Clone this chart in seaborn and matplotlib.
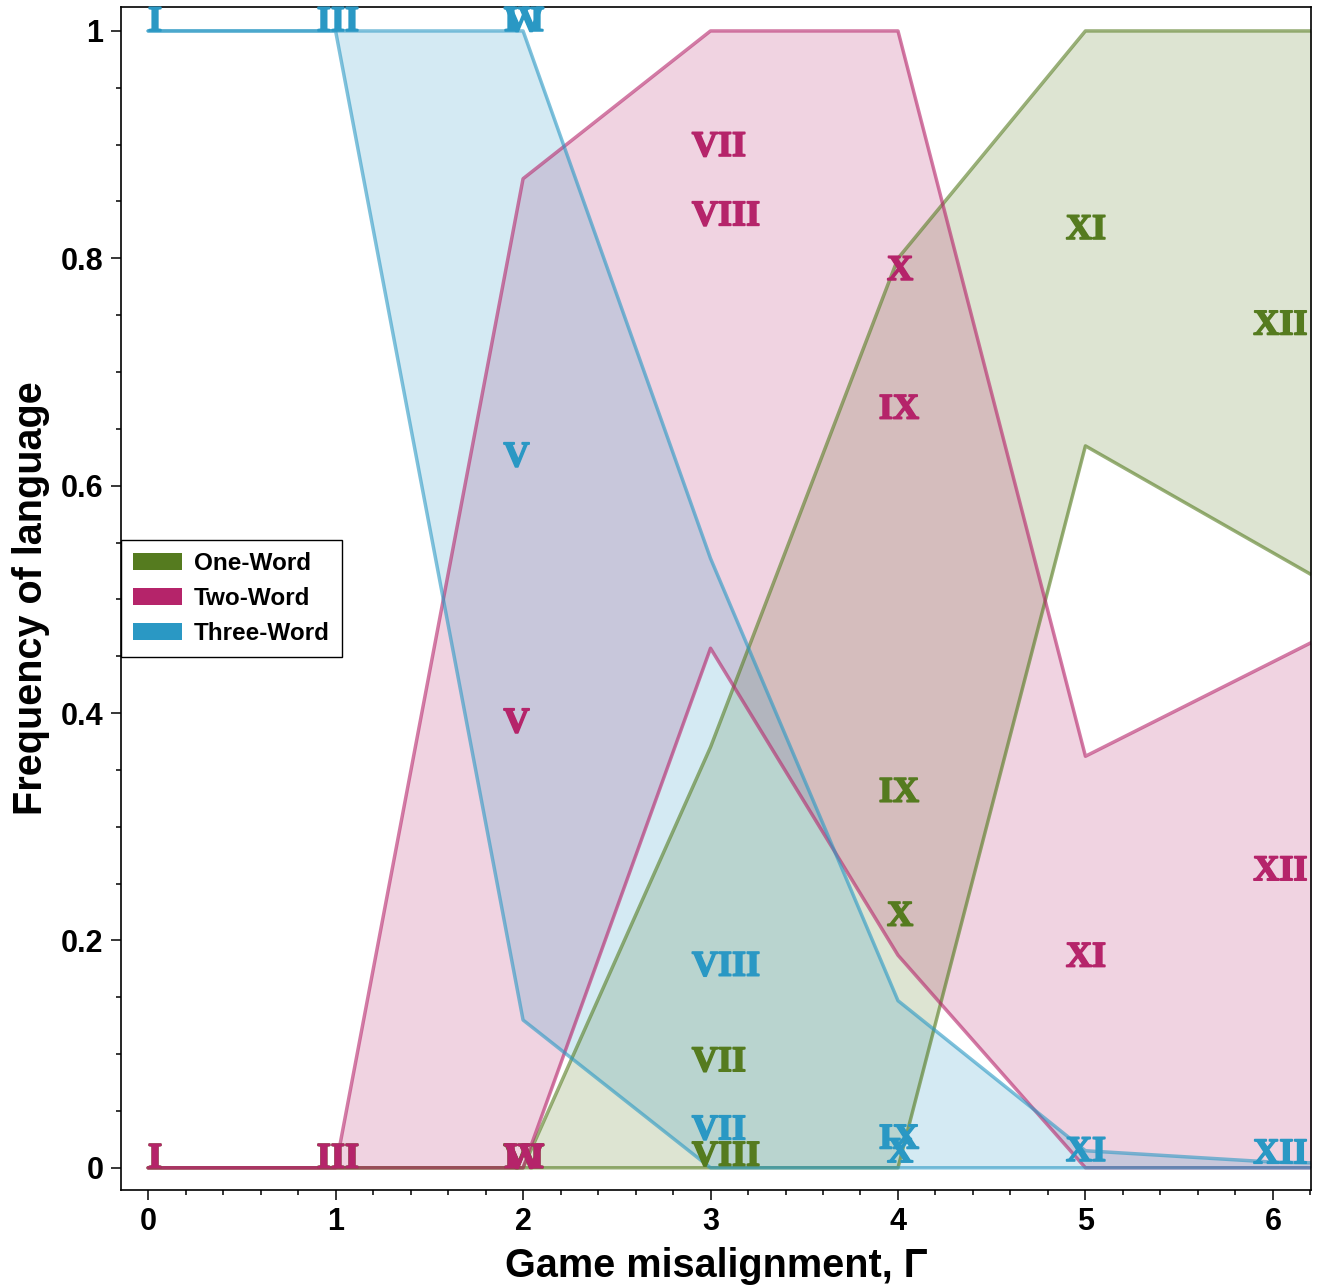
import numpy as np
import pandas as pd
import matplotlib
matplotlib.use("Agg")
import matplotlib.pyplot as plt
import matplotlib.patheffects as pe
import seaborn as sns
from matplotlib.patches import Patch
from matplotlib.ticker import MultipleLocator, FuncFormatter

# Envelope (min / max) of language frequency across runs, per misalignment level
gamma = [0, 1, 2, 3, 4, 5, 6, 7]
one_word_low = [0, 0, 0, 0, 0, 0.635, 0.541, 0.447]
one_word_high = [0, 0, 0, 0.370, 0.800, 1.0, 1.0, 1.0]
two_word_low = [0, 0, 0, 0.457, 0.187, 0, 0, 0]
two_word_high = [0, 0, 0.870, 1.0, 1.0, 0.362, 0.445, 0.528]
three_word_low = [1, 1, 0.130, 0, 0, 0, 0, 0]
three_word_high = [1, 1, 1, 0.536, 0.147, 0.015, 0.005, 0.002]

# Mean frequencies for the individual environments (Roman numerals)
env_names = ['I', 'III', 'IV', 'V', 'VI', 'VII', 'VIII', 'IX', 'X', 'XI', 'XII']
env_gamma = [0.037, 1.013, 2.005, 1.965, 2.005, 3.045, 3.083, 4.005, 4.011, 5.003, 6.04]
env_one = [0, 0, 0, 0, 0, 0.085, 0.002, 0.322, 0.213, 0.817, 0.733]
env_two = [0, 0, 0, 0.383, 0, 0.890, 0.829, 0.659, 0.781, 0.177, 0.253]
env_three = [1, 1, 1, 0.617, 1, 0.025, 0.169, 0.017, 0.005, 0.006, 0.004]

languages = ['One-Word', 'Two-Word', 'Three-Word']
colors = {'One-Word': '#557B1F', 'Two-Word': '#B5246A', 'Three-Word': '#2A98C4'}

sns.set_theme(style='ticks')
plt.rcParams['font.family'] = ['Liberation Sans', 'DejaVu Sans']
plt.rcParams['font.weight'] = 'bold'
for key in ['text.color', 'axes.labelcolor', 'xtick.color', 'ytick.color',
            'axes.edgecolor']:
    plt.rcParams[key] = 'black'

bounds = {
    'One-Word': (one_word_low, one_word_high),
    'Two-Word': (two_word_low, two_word_high),
    'Three-Word': (three_word_low, three_word_high),
}

rows = []
for lang in languages:
    lo, hi = bounds[lang]
    for g, v in zip(gamma, lo):
        rows.append({'gamma': g, 'freq': v, 'language': lang, 'bound': 'low'})
    for g, v in zip(gamma, hi):
        rows.append({'gamma': g, 'freq': v, 'language': lang, 'bound': 'high'})
env_df = pd.DataFrame(rows)

fig = plt.figure(figsize=(13.19, 12.87), dpi=100)
ax = fig.add_axes([0.0917, 0.0754, 0.9022, 0.9192])

for lang in languages:
    lo, hi = bounds[lang]
    ax.fill_between(gamma, lo, hi, facecolor=colors[lang], alpha=0.2,
                    linewidth=0, zorder=1)

sns.lineplot(data=env_df, x='gamma', y='freq', hue='language', units='bound',
             estimator=None, palette=colors, hue_order=languages,
             linewidth=2.5, alpha=0.6, legend=False, ax=ax, zorder=2)

# Environment labels: all One-Word first, then Two-Word, then Three-Word
env_values = {'One-Word': env_one, 'Two-Word': env_two, 'Three-Word': env_three}
for k, lang in enumerate(languages):
    for i, name in enumerate(env_names):
        ax.text(env_gamma[i], env_values[lang][i], name, color=colors[lang],
                ha='center', va='baseline', fontsize=26, fontweight='bold',
                family=['Liberation Serif', 'DejaVu Serif'], zorder=5 + k,
                path_effects=[pe.withStroke(linewidth=1.2,
                                            foreground=colors[lang])])

ax.set_xlim(-0.145, 6.203)
ax.set_ylim(-0.0195, 1.0211)

ax.xaxis.set_major_locator(MultipleLocator(1))
ax.xaxis.set_minor_locator(MultipleLocator(0.2))
ax.yaxis.set_major_locator(MultipleLocator(0.2))
ax.yaxis.set_minor_locator(MultipleLocator(0.05))
ax.yaxis.set_major_formatter(FuncFormatter(lambda v, p: f"{v:g}"))

ax.tick_params(axis='both', which='major', direction='out', length=7.5,
               width=1.1, labelsize=22, pad=5, color='black', labelcolor='black')
ax.tick_params(axis='both', which='minor', direction='out', length=3.8,
               width=1.1, color='black')
for lab in ax.get_xticklabels() + ax.get_yticklabels():
    lab.set_fontweight('bold')

for sp in ax.spines.values():
    sp.set_visible(True)
    sp.set_color('black')
    sp.set_linewidth(1.2)

ax.set_xlabel('Game misalignment, Γ', fontsize=28.5, fontweight='bold',
              labelpad=7, color='black')
ax.set_ylabel('Frequency of language', fontsize=28.5, fontweight='bold',
              labelpad=8, color='black')

handles = [Patch(facecolor=colors[l], edgecolor='none', label=l) for l in languages]
leg = ax.legend(handles=handles, loc='center left', bbox_to_anchor=(0, 0.5),
                borderaxespad=0, fancybox=False, framealpha=1, edgecolor='black',
                prop={'size': 17.5, 'weight': 'bold'}, handlelength=2.0,
                handleheight=0.7, handletextpad=0.5, labelspacing=0.5,
                borderpad=0.5)
leg.get_frame().set_linewidth(1.0)
for t in leg.get_texts():
    t.set_color('black')
leg.set_zorder(10)

fig.savefig('out.png', dpi=100)
